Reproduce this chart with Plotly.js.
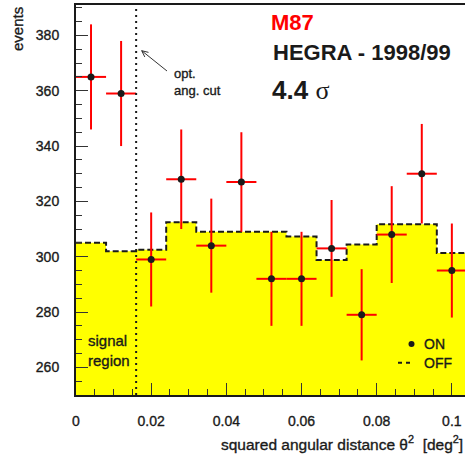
<!DOCTYPE html>
<html><head><meta charset="utf-8">
<script src="https://cdn.plot.ly/plotly-3.0.1.min.js"></script>
<style>
body{margin:0;padding:0;background:#fff}
#chart{width:465px;height:462px}
.xtick text,.ytick text,.annotation text{stroke:#1a1a1a;stroke-width:0.35px}
.annotation[data-index="0"] text,.annotation[data-index="1"] text,.annotation[data-index="2"] text{stroke:none}
</style>
</head><body><div id="chart"></div>
<script>
// ---- data ----
const binCenters = [0.004,0.012,0.020,0.028,0.036,0.044,0.052,0.060,0.068,0.076,0.084,0.092,0.100];
const onCounts   = [365,359,299,328,304,327,292,292,303,279,308,330,295];
const onErrors   = [19,19,17,18,17,18,17,17,17.5,16.5,17.5,18,17];
const binEdges   = [0,0.008,0.016,0.024,0.032,0.040,0.048,0.056,0.064,0.072,0.080,0.088,0.096,0.104];
const offCounts  = [305,302,302.5,312.5,309,309,309,307.3,298.8,304.4,311.7,311.7,301.3];
const binHalfWidth = 0.004;
const optCut = 0.016;
const xTickVals = [0,0.02,0.04,0.06,0.08,0.1];
const xTickText = ['0','0.02','0.04','0.06','0.08','0.1'];
const yTickVals = [260,280,300,320,340,360,380];

// ---- layout helpers (pixel -> paper) ----
const L = 76, T = 5, W = 389, H = 390;
const px = v => (v - L) / W;
const py = v => (T + H - v) / H;
const FONT = 'Liberation Sans, Arial, Helvetica, sans-serif';
const INK = '#1a1a1a';

const offY = offCounts.concat([offCounts[offCounts.length - 1]]);

const traces = [
  {
    type: 'scatter', mode: 'lines', x: binEdges, y: offY,
    line: {shape: 'hv', color: INK, width: 2, dash: '6px,3px'},
    fill: 'tozeroy', fillcolor: '#ffff00', hoverinfo: 'skip', showlegend: false
  },
  {
    type: 'scatter', mode: 'markers', x: binCenters, y: onCounts,
    marker: {color: INK, size: 7},
    error_y: {type: 'data', array: onErrors, color: '#ff0000', thickness: 2, width: 0},
    error_x: {type: 'constant', value: binHalfWidth, color: '#ff0000', thickness: 2, width: 0},
    showlegend: false
  }
];

const ann = (text, x, y, opts) => Object.assign({
  text, x: px(x), y: py(y), xref: 'paper', yref: 'paper', showarrow: false,
  xanchor: 'left', yanchor: 'middle', align: 'left', font: {family: FONT, size: 14, color: INK}
}, opts || {});

// arrow (tail -> head) in pixels
const tail = [167, 71], head = [141.7, 50.7];
const ux = head[0] - tail[0], uy = head[1] - tail[1], ul = Math.hypot(ux, uy);
const dx = ux / ul, dy = uy / ul, hl = 7, ang = 25 * Math.PI / 180;
const wing = s => [head[0] - hl * (dx * Math.cos(ang) - s * dy * Math.sin(ang)),
                   head[1] - hl * (s * dx * Math.sin(ang) + dy * Math.cos(ang))];
const w1 = wing(1), w2 = wing(-1);
const P = p => px(p[0]).toFixed(5) + ',' + py(p[1]).toFixed(5);
const arrowPath = 'M' + P(tail) + 'L' + P(head) + 'M' + P(w1) + 'L' + P(head) + 'L' + P(w2);

const layout = {
  width: 465, height: 462, autosize: false,
  margin: {l: L, r: 0, t: T, b: 462 - T - H, pad: 0},
  paper_bgcolor: '#ffffff', plot_bgcolor: '#ffffff',
  showlegend: false,
  font: {family: FONT, size: 14, color: INK},
  xaxis: {
    range: [0, 0.1035], showgrid: false, zeroline: false,
    showline: true, linecolor: INK, linewidth: 2, mirror: true,
    ticks: 'inside', ticklen: 12, tickwidth: 1, tickcolor: '#333',
    tickmode: 'array', tickvals: xTickVals, ticktext: xTickText,
    ticklabelstandoff: 12,
    tickfont: {family: FONT, size: 14, color: INK},
    minor: {dtick: 0.005, tick0: 0, ticks: 'inside', ticklen: 6, tickwidth: 1, tickcolor: '#333', showgrid: false}
  },
  yaxis: {
    range: [250, 391], showgrid: false, zeroline: false,
    showline: true, linecolor: INK, linewidth: 2,
    ticks: 'inside', ticklen: 12, tickwidth: 1, tickcolor: '#333',
    tickmode: 'array', tickvals: yTickVals,
    ticklabelstandoff: 12,
    tickfont: {family: FONT, size: 14, color: INK},
    minor: {dtick: 5, tick0: 0, ticks: 'inside', ticklen: 6, tickwidth: 1, tickcolor: '#333', showgrid: false}
  },
  shapes: [
    {type: 'line', xref: 'x', yref: 'paper', x0: optCut, x1: optCut, y0: 0, y1: 1,
     line: {color: INK, width: 2, dash: '2px,4px'}},
    {type: 'path', xref: 'paper', yref: 'paper', path: arrowPath, line: {color: '#333', width: 1}},
    {type: 'circle', xref: 'paper', yref: 'paper', x0: px(408.5), x1: px(414.5), y0: py(347), y1: py(341),
     fillcolor: INK, line: {width: 0}},
    {type: 'line', xref: 'paper', yref: 'paper', x0: px(398), x1: px(411), y0: py(362.7), y1: py(362.7),
     line: {color: INK, width: 2, dash: '4px,4px'}}
  ],
  annotations: [
    ann('M87', 292.5, 23, {xanchor: 'center', font: {family: FONT, size: 22, color: '#ff0000', weight: 'bold'}}),
    ann('HEGRA - 1998/99', 271, 52, {font: {family: FONT, size: 22, color: INK, weight: 'bold'}}),
    ann('<b>4.4</b> <span style="font-family:Liberation Serif, Times New Roman, serif">σ</span>', 270, 90, {font: {family: FONT, size: 26, color: INK}}),
    ann('opt.<br>ang. cut', 172, 82, {font: {family: FONT, size: 13, color: INK}}),
    ann('signal<br>region', 86, 350, {font: {family: FONT, size: 15, color: INK}}),
    ann('ON', 422, 344, {font: {family: FONT, size: 14, color: INK}}),
    ann('OFF', 422, 363, {font: {family: FONT, size: 14, color: INK}}),
    ann('squared angular distance θ<sup>2</sup>  [deg<sup>2</sup>]', 465, 443, {xanchor: 'right', font: {family: FONT, size: 15.5, color: INK}}),
    ann('events', 17, 5, {xanchor: 'center', yanchor: 'top', textangle: -90, font: {family: FONT, size: 15, color: INK}})
  ]
};

Plotly.newPlot('chart', traces, layout, {staticPlot: true, displayModeBar: false});
</script></body></html>
